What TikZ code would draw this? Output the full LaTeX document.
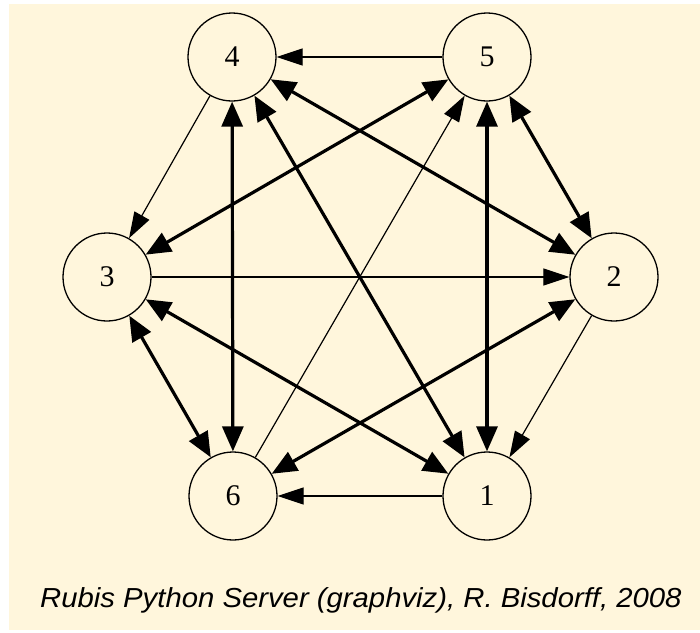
\documentclass[tikz,border=0pt]{standalone}
\usepackage{fontspec}
\setmainfont{Liberation Serif}
\newfontfamily\capfont{Liberation Sans}
\usetikzlibrary{arrows.meta}
\definecolor{bgc}{HTML}{FFF6DC}
\begin{document}
\begin{tikzpicture}[x=1pt,y=-1pt,
  vertex/.style={circle, draw, line width=1.3pt, minimum size=88pt, inner sep=0pt,
    font=\fontsize{30}{34}\selectfont},
  thinedge/.style={line width=1.2pt, -{Triangle[length=26pt,width=17pt]}},
  thickedge/.style={line width=3.2pt,
    {Triangle[length=25pt,width=21pt]}-{Triangle[length=25pt,width=21pt]}},
  caption/.style={font=\capfont\itshape\fontsize{27.5}{32}\selectfont, inner sep=0pt, xscale=1.065}
]
\useasboundingbox (0,0) rectangle (700,632);
\fill[bgc] (9,4) rectangle (700,630);
\node[vertex] (n4) at (232,57) {4};
\node[vertex] (n5) at (487,57) {5};
\node[vertex] (n3) at (107,277) {3};
\node[vertex] (n2) at (614,277) {2};
\node[vertex] (n6) at (233,496) {6};
\node[vertex] (n1) at (487,496) {1};
% thin one-way edges
\draw[thinedge] (n5) -- (n4);
\draw[thinedge] (n4) -- (n3);
\draw[thinedge] (n3) -- (n2);
\draw[thinedge] (n2) -- (n1);
\draw[thinedge] (n1) -- (n6);
\draw[thinedge] (n6) -- (n5);
% thick two-way edges
\draw[thickedge] (n3) -- (n5);
\draw[thickedge] (n4) -- (n2);
\draw[thickedge] (n4) -- (n6);
\draw[thickedge] (n5) -- (n1);
\draw[thickedge] (n4) -- (n1);
\draw[thickedge] (n3) -- (n1);
\draw[thickedge] (n5) -- (n2);
\draw[thickedge] (n3) -- (n6);
\draw[thickedge] (n2) -- (n6);
\node[caption, anchor=base west, transform shape] (cap) at (40,607) {Rubis Python Server (graphviz), R. Bisdorff, 2008};
\end{tikzpicture}
\end{document}
